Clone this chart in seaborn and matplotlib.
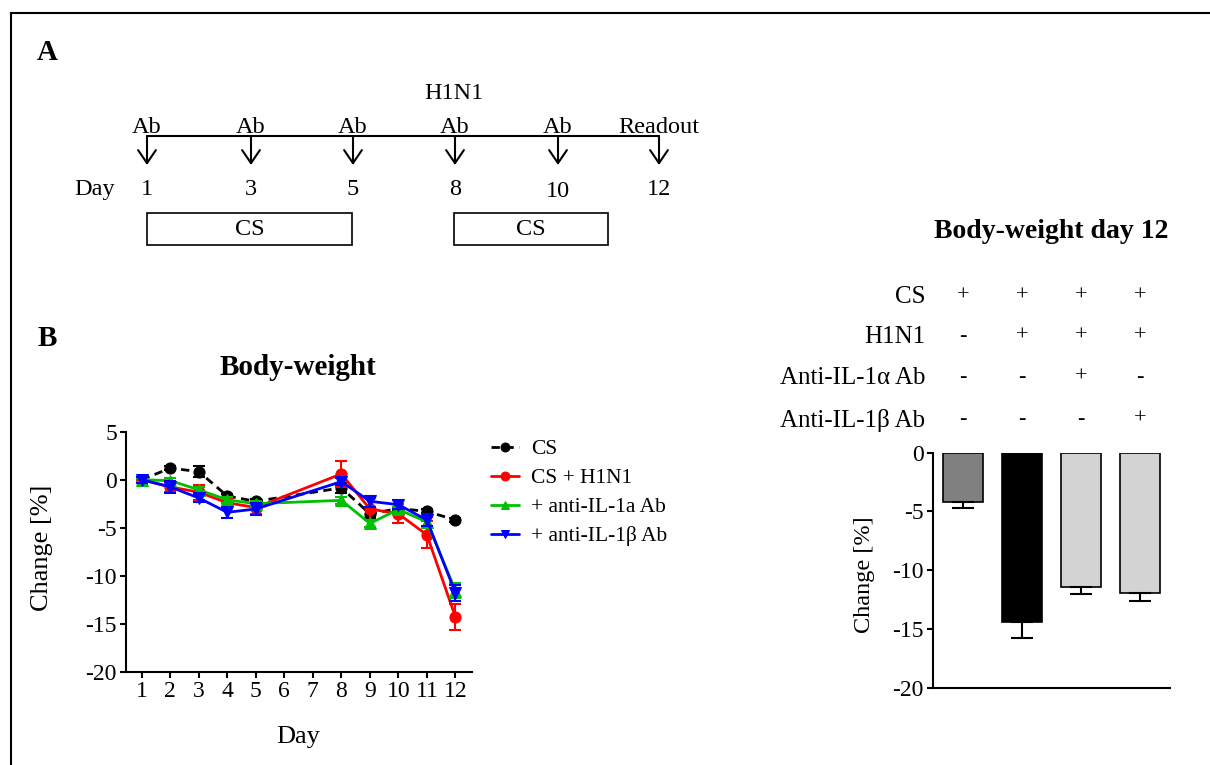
import seaborn as sns
import matplotlib.pyplot as plt
import matplotlib.transforms as mtrans
from matplotlib.patches import Rectangle
import numpy as np
import pandas as pd

# --- data: body weight change over time (mean, SEM) ---
days = [1, 2, 3, 4, 5, 8, 9, 10, 11, 12]
cs = [0, 1.2, 0.85, -1.7, -2.25, -0.85, -3.55, -3.0, -3.3, -4.2]
cs_err = [0.2, 0.2, 0.6, 0.2, 0.2, 0.5, 0.4, 0.2, 0.2, 0.2]
h1n1 = [0, -0.75, -1.3, -2.4, -2.9, 0.6, -3.05, -3.55, -5.75, -14.3]
h1n1_err = [0.2, 0.5, 0.8, 0.5, 0.7, 1.35, 1.1, 1.0, 1.4, 1.4]
il1a = [0, -0.1, -1.05, -2.1, -2.5, -2.15, -4.55, -3.1, -4.4, -11.55]
il1a_err = [0.2, 0.3, 0.3, 0.3, 0.3, 0.4, 0.4, 0.3, 0.5, 0.8]
il1b = [0, -0.75, -1.9, -3.4, -3.05, -0.2, -2.25, -2.6, -4.2, -11.8]
il1b_err = [0.3, 0.6, 0.4, 0.6, 0.6, 0.4, 0.6, 0.5, 0.6, 0.8]
series_labels = ['CS', 'CS + H1N1', '+ anti-IL-1a Ab', '+ anti-IL-1β Ab']

# --- data: body weight at day 12 ---
groups = ['CS', 'CS+H1N1', 'anti-IL-1α', 'anti-IL-1β']
bar_vals = [-4.2, -14.4, -11.4, -11.9]
bar_err = [0.48, 1.36, 0.62, 0.74]
bar_colors = ['#808080', '#000000', '#d3d3d3', '#d3d3d3']
row_labels = ['CS', 'H1N1', 'Anti-IL-1α Ab', 'Anti-IL-1β Ab']
row_signs = [['+', '+', '+', '+'],
             ['-', '+', '+', '+'],
             ['-', '-', '+', '-'],
             ['-', '-', '-', '+']]

# --- timeline (panel A) ---
tl_days = ['1', '3', '5', '8', '10', '12']
tl_events = ['Ab', 'Ab', 'Ab', 'Ab', 'Ab', 'Readout']

sns.set_style('ticks')
plt.rcParams['font.family'] = ['Liberation Serif', 'DejaVu Serif']
plt.rcParams['axes.unicode_minus'] = False
for k in ['text.color', 'axes.labelcolor', 'xtick.color', 'ytick.color', 'axes.edgecolor']:
    plt.rcParams[k] = 'black'

W, H = 1210, 765
fig = plt.figure(figsize=(12.1, 7.65), dpi=100)

# overlay in pixel coordinates for the schematic and free text
ov = fig.add_axes([0, 0, 1, 1])
ov.set_xlim(0, W)
ov.set_ylim(H, 0)
ov.axis('off')
ov.patch.set_alpha(0)

# frame
ov.plot([11, 11], [H, 13], color='black', lw=1.5, solid_capstyle='projecting')
ov.plot([11, W], [13, 13], color='black', lw=1.5, solid_capstyle='projecting')

ov.text(47, 52, 'A', fontsize=21, fontweight='bold', ha='center', va='center')
ov.text(47, 338, 'B', fontsize=21, fontweight='bold', ha='center', va='center')

tl_fs = 17.5
tl_x = [147, 251, 353, 455, 558, 659]
ov.plot([tl_x[0], tl_x[-1]], [136, 136], color='black', lw=1.5)
for i, x in enumerate(tl_x):
    ov.annotate('', xy=(x, 165), xytext=(x, 136),
                arrowprops=dict(arrowstyle='->,head_length=0.47,head_width=0.32',
                                mutation_scale=20, lw=1.5, color='black',
                                shrinkA=0, shrinkB=0))
    ov.text(x, 127, tl_events[i], fontsize=tl_fs, ha='center', va='center')
    dy = 2 if tl_days[i] == '10' else 0
    ov.text(x, 189 + dy, tl_days[i], fontsize=tl_fs, ha='center', va='center')
ov.text(95, 189, 'Day', fontsize=tl_fs, ha='center', va='center')
ov.text(454, 93, 'H1N1', fontsize=tl_fs, ha='center', va='center')
for x0, x1 in [(147, 352), (454, 608)]:
    ov.add_patch(Rectangle((x0, 213), x1 - x0, 32, fill=False, lw=1.2, ec='black'))
    ov.text((x0 + x1) / 2, 229, 'CS', fontsize=tl_fs, ha='center', va='center')

# --- line chart ---
ax1 = fig.add_axes([126 / W, 1 - 671.7 / H, 345.7 / W, 240 / H])
colors = ['black', 'red', '#00c000', 'blue']
markers = ['o', 'o', '^', 'v']
vals = [cs, h1n1, il1a, il1b]
errs = [cs_err, h1n1_err, il1a_err, il1b_err]
for i in [3, 2, 1, 0]:
    ls = (0, (3, 2)) if i == 0 else '-'
    ax1.errorbar(days, vals[i], yerr=errs[i], fmt='none', ecolor=colors[i],
                 elinewidth=1.5, capsize=4, capthick=1.5, zorder=2 + i)
    sns.lineplot(x=days, y=vals[i], color=colors[i], marker=markers[i],
                 markersize=8, markeredgecolor=colors[i], linewidth=2,
                 linestyle=ls, label=series_labels[i], ax=ax1, zorder=2 + i)

handles, labels = ax1.get_legend_handles_labels()
order = [labels.index(l) for l in series_labels]
ax1.legend([handles[k] for k in order], series_labels, loc='upper left',
           bbox_to_anchor=(491 / W, 1 - 439 / H), bbox_transform=fig.transFigure,
           frameon=False, fontsize=15.5, handlelength=1.3, handletextpad=0.55,
           labelspacing=0.42, borderpad=0, borderaxespad=0, markerscale=0.8)

ax1.set_xlim(0.45, 12.57)
ax1.set_ylim(-20, 5)
ax1.set_xticks(range(1, 13))
ax1.set_yticks([5, 0, -5, -10, -15, -20])
sns.despine(ax=ax1)
for s in ['left', 'bottom']:
    ax1.spines[s].set_linewidth(1.5)
ax1.tick_params(length=4.5, width=1.5, labelsize=17, pad=2)
ax1.set_xlabel('Day', fontsize=19, va='center')
ax1.xaxis.set_label_coords(0.4975, -0.272)
ax1.set_ylabel('Change [%]', fontsize=19, va='center')
ax1.yaxis.set_label_coords(-0.243, 0.515)
ov.text(298, 367, 'Body-weight', fontsize=21, fontweight='bold', ha='center', va='center')

# --- bar chart ---
ax2 = fig.add_axes([933 / W, 1 - 687.7 / H, 237 / W, 235 / H])
df_bar = pd.DataFrame({'group': groups, 'change': bar_vals})
sns.barplot(data=df_bar, x='group', y='change', hue='group', palette=bar_colors,
            edgecolor='black', linewidth=1.2, width=0.68, errorbar=None,
            legend=False, ax=ax2)
ax2.errorbar(range(len(groups)), bar_vals, yerr=[bar_err, np.zeros(len(groups))],
             fmt='none', ecolor='black', elinewidth=1.5, capsize=8, capthick=1.5)
ax2.set_xlim(-0.51, 3.51)
ax2.set_ylim(-20, 0)
ax2.set_yticks([0, -5, -10, -15, -20])
ax2.set_xticks([])
ax2.set_xlabel('')
sns.despine(ax=ax2)
for s in ['left', 'bottom']:
    ax2.spines[s].set_linewidth(1.5)
ax2.tick_params(axis='y', length=4.5, width=1.5, labelsize=17, pad=2)
ax2.set_ylabel('Change [%]', fontsize=17.5, va='center')
ax2.yaxis.set_label_coords(-0.29, 0.48)

ov.text(1051, 231, 'Body-weight day 12', fontsize=20, fontweight='bold',
        ha='center', va='center')
blend = mtrans.blended_transform_factory(ax2.transData, ov.transData)
row_y = [297, 337, 378, 420]
for r, lab in enumerate(row_labels):
    ov.text(925, row_y[r], lab, fontsize=18, ha='right', va='center')
    for c, sgn in enumerate(row_signs[r]):
        ov.text(c, row_y[r] - 1, sgn, fontsize=16, ha='center', va='center',
                transform=blend)

fig.savefig('out.png', dpi=100)
